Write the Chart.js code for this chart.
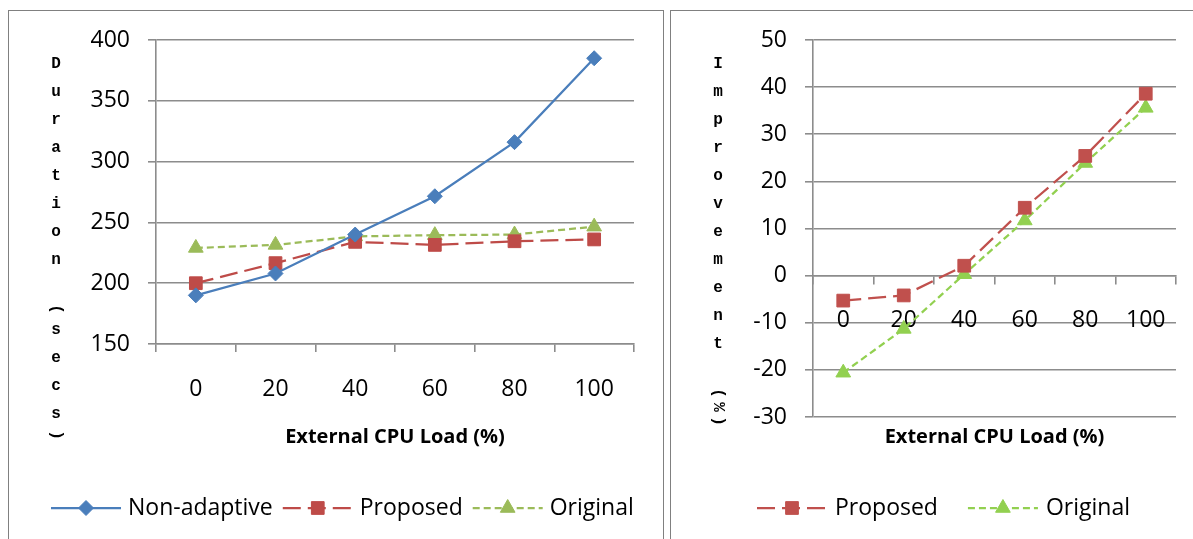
<!DOCTYPE html>
<html lang="en">
<head>
    <meta charset="UTF-8">
    <title>Duration and Improvement vs External CPU Load</title>
    <script src="https://cdn.jsdelivr.net/npm/chart.js"></script>
    <style>
        body { margin: 0; background: #fff; width: 1193px; height: 539px; overflow: hidden; position: relative; }
        .frame { position: absolute; border: 1px solid #808080; }
        #leftFrame { left: 8px; top: 10px; width: 654px; height: 560px; }
        #rightFrame { left: 670px; top: 10px; width: 560px; height: 560px; }
        canvas { position: absolute; top: 0; }
        #leftChart { left: 0; }
        #rightChart { left: 663px; }
    </style>
</head>
<body>
    <div class="frame" id="leftFrame"></div>
    <div class="frame" id="rightFrame"></div>
    <canvas id="leftChart" width="663" height="539"></canvas>
    <canvas id="rightChart" width="530" height="539"></canvas>

    <script>
        // data
        const categories = ["0", "20", "40", "60", "80", "100"];

        const durationNonAdaptive = [190, 208, 240, 271.5, 316, 385];
        const durationProposed = [200, 216.5, 234, 231.5, 234.5, 236];
        const durationOriginal = [229, 231.5, 238.5, 239.5, 240, 246.5];
        const durationTicks = [150, 200, 250, 300, 350, 400];

        const improvementProposed = [-5.3, -4.2, 2.1, 14.4, 25.4, 38.6];
        const improvementOriginal = [-20.6, -11.3, 0.3, 11.7, 23.9, 35.6];
        const improvementTicks = [-30, -20, -10, 0, 10, 20, 30, 40, 50];

        const xTitle = "External CPU Load (%)";

        // look
        const family = "'Open Sans', sans-serif";
        const gridColor = "#8c8c8c";
        const gridWidth = 1.6;
        const tickFont = { family: family, size: 23 };
        const titleFont = { family: family, size: 20, weight: "bold" };

        // legend as Excel draws it: line segment with the marker on it
        const lineLegend = {
            id: "lineLegend",
            afterDraw(chart, args, opts) {
                const ctx = chart.ctx;
                let x = opts.x;
                const y = opts.y;
                ctx.save();
                ctx.font = "23px " + family;
                ctx.textBaseline = "middle";
                chart.data.datasets.forEach(ds => {
                    ctx.strokeStyle = ds.borderColor;
                    ctx.lineWidth = ds.borderWidth;
                    ctx.setLineDash(ds.borderDash || []);
                    ctx.beginPath();
                    ctx.moveTo(x, y);
                    ctx.lineTo(x + opts.lineLength, y);
                    ctx.stroke();
                    ctx.setLineDash([]);
                    ctx.fillStyle = ds.pointBackgroundColor;
                    ctx.strokeStyle = ds.pointBorderColor;
                    ctx.lineWidth = 1;
                    Chart.helpers.drawPoint(ctx, {
                        pointStyle: ds.pointStyle, radius: ds.pointRadius, rotation: 0, borderWidth: 1
                    }, x + opts.lineLength / 2, y);
                    ctx.fillStyle = "#000";
                    ctx.fillText(ds.label, x + opts.lineLength + opts.textGap, y);
                    x += opts.lineLength + opts.textGap + ctx.measureText(ds.label).width + opts.itemGap;
                });
                ctx.restore();
            }
        };

        // y title written one letter per line, brackets and % turned sideways
        const stackedTitle = {
            id: "stackedTitle",
            afterDraw(chart, args, opts) {
                const ctx = chart.ctx;
                ctx.save();
                ctx.font = "bold 16px 'Liberation Mono', 'Courier New', monospace";
                ctx.fillStyle = "#000";
                ctx.textAlign = "center";
                ctx.textBaseline = "middle";
                let y = opts.top;
                for (const ch of opts.text) {
                    const turned = "()%".includes(ch);
                    const h = turned ? 14 : 28;
                    const cy = y + h / 2;
                    if (turned) {
                        ctx.save();
                        ctx.translate(opts.x, cy);
                        ctx.rotate(Math.PI / 2);
                        ctx.fillText(ch, 0, 0);
                        ctx.restore();
                    } else if (ch !== " ") {
                        ctx.fillText(ch, opts.x, cy);
                    }
                    y += h;
                }
                ctx.restore();
            }
        };

        function series(label, data, color, dash, style, radius) {
            return {
                label: label,
                data: data,
                borderColor: color,
                backgroundColor: color,
                borderWidth: 2.25,
                borderDash: dash,
                pointStyle: style,
                pointRadius: radius,
                pointHoverRadius: radius,
                pointBackgroundColor: color,
                pointBorderColor: color,
                pointBorderWidth: 1,
                tension: 0
            };
        }

        function yAxis(ticks, width) {
            return {
                min: ticks[0],
                max: ticks[ticks.length - 1],
                ticks: { stepSize: ticks[1] - ticks[0], font: tickFont, color: "#000", padding: 18 },
                grid: { color: gridColor, lineWidth: gridWidth, tickLength: 8, drawTicks: true },
                border: { color: gridColor, width: gridWidth },
                afterFit(s) { s.width = width; }
            };
        }

        const xTicksGrid = {
            display: true, drawOnChartArea: false, drawTicks: true, tickLength: 8, offset: true,
            color: gridColor, lineWidth: gridWidth
        };

        Chart.defaults.font.family = family;
        Chart.defaults.color = "#000";

        new Chart(document.getElementById("leftChart"), {
            type: "line",
            data: {
                labels: categories,
                datasets: [
                    series("Non-adaptive", durationNonAdaptive, "#4a7ebb", [], "rectRot", 7.5),
                    series("Proposed", durationProposed, "#be4b48", [18, 7], "rect", 9),
                    series("Original", durationOriginal, "#9bbb59", [7, 4], "triangle", 8.5)
                ]
            },
            options: {
                responsive: false,
                animation: false,
                events: [],
                layout: { padding: { left: 0, right: 29, top: 40, bottom: 90 } },
                plugins: {
                    legend: { display: false },
                    tooltip: { enabled: false },
                    lineLegend: { x: 51, y: 508, lineLength: 70, textGap: 7, itemGap: 10 },
                    stackedTitle: { x: 56, top: 50, text: "Duration (secs)" }
                },
                scales: {
                    x: {
                        offset: true,
                        grid: xTicksGrid,
                        border: { color: gridColor, width: gridWidth },
                        ticks: { font: tickFont, color: "#000", padding: 24, maxRotation: 0 },
                        title: { display: true, text: xTitle, font: titleFont, color: "#000", padding: 0 },
                        afterFit(s) { s.height = 105; }
                    },
                    y: yAxis(durationTicks, 156)
                }
            },
            plugins: [lineLegend, stackedTitle]
        });

        new Chart(document.getElementById("rightChart"), {
            type: "line",
            data: {
                labels: categories,
                datasets: [
                    series("Proposed", improvementProposed, "#c0504d", [18, 7], "rect", 9),
                    series("Original", improvementOriginal, "#92d050", [7, 4], "triangle", 8.5)
                ]
            },
            options: {
                responsive: false,
                animation: false,
                events: [],
                layout: { padding: { left: 0, right: 17, top: 40, bottom: 90 } },
                plugins: {
                    legend: { display: false },
                    tooltip: { enabled: false },
                    lineLegend: { x: 94, y: 508, lineLength: 70, textGap: 8, itemGap: 30 },
                    stackedTitle: { x: 55, top: 50, text: "Improvement (%)" }
                },
                scales: {
                    x: {
                        position: { y: 0 },
                        offset: true,
                        grid: xTicksGrid,
                        border: { color: gridColor, width: gridWidth },
                        ticks: { font: tickFont, color: "#000", padding: 23, maxRotation: 0 }
                    },
                    x2: {
                        type: "category",
                        position: "bottom",
                        offset: true,
                        ticks: { display: false },
                        grid: { display: false, drawTicks: false },
                        border: { display: false },
                        title: { display: true, text: xTitle, font: titleFont, color: "#000", padding: 0 },
                        afterFit(s) { s.height = 32; }
                    },
                    y: yAxis(improvementTicks, 150)
                }
            },
            plugins: [lineLegend, stackedTitle]
        });
    </script>
</body>
</html>
